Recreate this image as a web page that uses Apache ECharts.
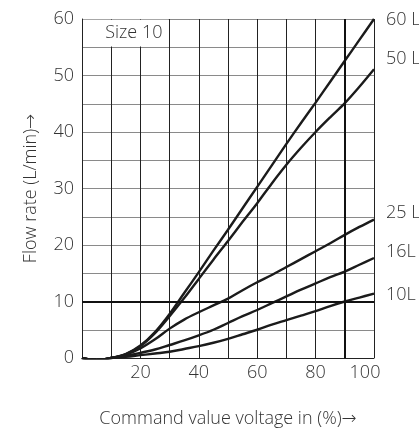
<!DOCTYPE html>
<html>
<head>
<meta charset="utf-8">
<script src="https://cdn.jsdelivr.net/npm/echarts@6/dist/echarts.min.js"></script>
<style>
  html, body { margin: 0; padding: 0; background: #fff; }
  #chart { width: 419px; height: 433px; }
</style>
</head>
<body>
<div id="chart"></div>
<script>
// Command value voltage (%) sample points
const voltage = [0, 5, 10, 15, 20, 25, 30, 35, 40, 45, 50, 55, 60, 65, 70, 75, 80, 85, 90, 95, 100];

// Flow rate (L/min) per valve rating
const flow60 = [0, -0.4, 0, 0.7, 2.2, 4.6, 7.8, 11.5, 15.2, 19.0, 22.7, 26.5, 30.3, 34.1, 37.9, 41.6, 45.2, 48.9, 52.6, 56.3, 60.0];
const flow50 = [0, -0.4, 0, 0.7, 2.1, 4.4, 7.4, 10.6, 14.0, 17.4, 20.7, 24.1, 27.4, 30.9, 34.2, 37.2, 40.0, 42.6, 45.1, 48.0, 51.1];
const flow25 = [0, -0.4, 0, 0.6, 1.7, 3.3, 5.2, 6.8, 8.1, 9.3, 10.5, 12.0, 13.4, 14.7, 16.1, 17.5, 18.9, 20.3, 21.8, 23.2, 24.5];
const flow16 = [0, -0.4, 0, 0.4, 0.9, 1.5, 2.3, 3.1, 4.0, 5.0, 6.2, 7.4, 8.5, 9.7, 10.9, 12.1, 13.2, 14.3, 15.3, 16.5, 17.7];
const flow10 = [0, -0.4, 0, 0.2, 0.5, 0.8, 1.1, 1.6, 2.1, 2.7, 3.4, 4.2, 5.0, 5.9, 6.7, 7.5, 8.3, 9.2, 10.0, 10.7, 11.4];

const seriesNames = ['60 L', '50 L', '25 L', '16L', '10L'];
const seriesValues = [flow60, flow50, flow25, flow16, flow10];
const labelLift = [1, -10, -7, -6.5, 1];

// Reference lines and the size box
const refFlow = 10;
const refVoltage = 90;
const boxText = 'Size 10';
const xTitle = 'Command value voltage in (%)';
const yTitle = 'Flow rate (L/min)';

const FONT = '"Open Sans", "Noto Sans", sans-serif';
const TEXT = '#333';
const FS = 18;
const W = 300;

const arrowRich = { a: { fontFamily: '"DejaVu Sans", sans-serif', fontSize: FS, color: TEXT } };

const chart = echarts.init(document.getElementById('chart'));

const series = seriesValues.map((vals, i) => ({
  name: seriesNames[i],
  type: 'line',
  smooth: 0.35,
  symbol: 'none',
  silent: true,
  z: 3,
  lineStyle: { color: '#1b1b1b', width: 2.4 },
  data: voltage.map((v, k) => [v, vals[k]]),
  endLabel: {
    show: true,
    formatter: seriesNames[i],
    color: TEXT,
    fontFamily: FONT,
    fontWeight: W,
    fontSize: FS,
    offset: [4, labelLift[i]]
  }
}));

// Thick reference lines and the white label box
series.push({
  type: 'line',
  data: [],
  silent: true,
  z: 2,
  markLine: {
    silent: true,
    symbol: 'none',
    label: { show: false },
    lineStyle: { color: '#111', width: 2, type: 'solid' },
    data: [{ yAxis: refFlow }, { xAxis: refVoltage }]
  },
  markArea: {
    silent: true,
    itemStyle: { color: '#fff' },
    label: {
      show: true,
      position: 'insideRight',
      distance: 6,
      color: TEXT,
      fontFamily: FONT,
      fontWeight: W,
      fontSize: FS,
      formatter: boxText
    },
    data: [[{ xAxis: 0.4, yAxis: 55.15 }, { xAxis: 29.6, yAxis: 59.85 }]]
  }
});

chart.setOption({
  animation: false,
  backgroundColor: '#fff',
  grid: { left: 82, right: 45, top: 19, bottom: 66, containLabel: false },
  xAxis: {
    type: 'value',
    min: 0,
    max: 100,
    interval: 10,
    name: xTitle + '{a|→}',
    nameLocation: 'middle',
    nameGap: 52,
    nameTextStyle: { color: TEXT, fontFamily: FONT, fontWeight: W, fontSize: FS, rich: arrowRich },
    axisLine: { show: true, onZero: false, lineStyle: { color: '#222', width: 1 } },
    axisTick: { show: false },
    axisLabel: {
      color: TEXT, fontFamily: FONT, fontWeight: W, fontSize: FS, margin: 6,
      rich: { last: { fontFamily: FONT, fontWeight: W, fontSize: FS, color: TEXT, padding: [0, 18, 0, 0] } },
      formatter: v => {
        if (v === 100) return '{last|100}';
        return v > 0 && v % 20 === 0 ? String(v) : '';
      }
    },
    splitLine: { show: true, lineStyle: { color: '#222', width: 1 } }
  },
  yAxis: {
    type: 'value',
    min: 0,
    max: 60,
    interval: 5,
    name: yTitle + '{a|→}',
    nameLocation: 'middle',
    nameGap: 42,
    nameTextStyle: { color: TEXT, fontFamily: FONT, fontWeight: W, fontSize: FS, rich: arrowRich },
    axisLine: { show: true, onZero: false, lineStyle: { color: '#222', width: 1 } },
    axisTick: { show: false },
    axisLabel: {
      color: TEXT, fontFamily: FONT, fontWeight: W, fontSize: FS, margin: 8,
      formatter: v => (v % 10 === 0 ? String(v) : '')
    },
    splitLine: { show: true, lineStyle: { color: '#8a8a8a', width: 1 } }
  },
  series: series
});
</script>
</body>
</html>
